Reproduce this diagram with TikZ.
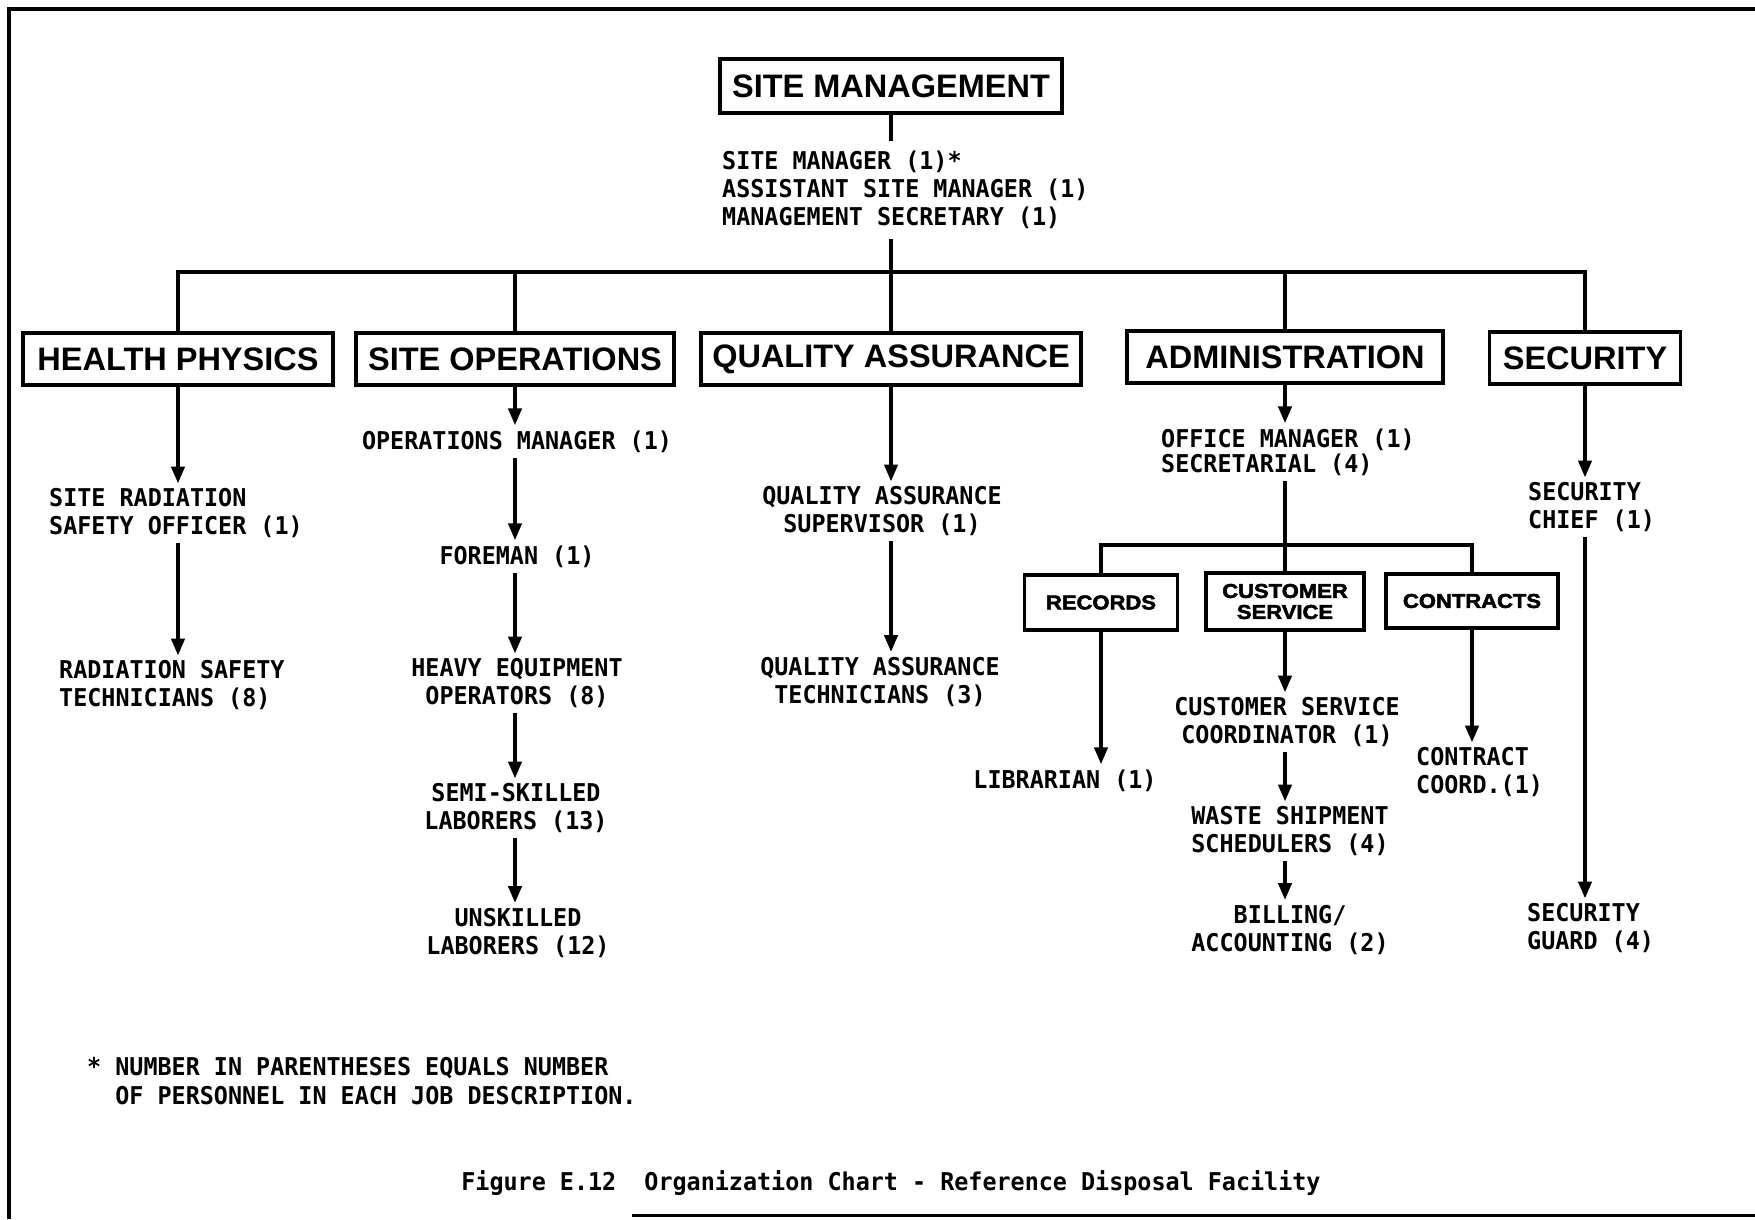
\documentclass[tikz,border=0pt]{standalone}
\usepackage{fontspec}
\usetikzlibrary{arrows.meta}
\newfontfamily\bodyfont[FakeStretch=0.955]{DejaVu Sans Mono}
\newfontfamily\deptfont{Liberation Sans}
\newfontfamily\subfont[FakeStretch=1.1,FakeBold=2.5]{Liberation Sans Bold}
\tikzset{
  dept/.style={draw, line width=3.5pt, minimum height=52pt, inner sep=0pt, font=\deptfont\bfseries\fontsize{32.5}{36}\selectfont},
  subbox/.style={draw, line width=3.5pt, inner sep=0pt, align=center, font=\subfont\fontsize{20}{21}\selectfont},
  job/.style={inner sep=5pt, font=\bodyfont\bfseries\fontsize{24.5}{28}\selectfont},
  jobl/.style={job, align=left},
  jobc/.style={job, align=center},
  link/.style={line width=4pt},
  arr/.style={line width=4pt, -{Triangle[length=17pt,width=13pt]}},
  frame/.style={line width=4pt},
}
\begin{document}
\begin{tikzpicture}[x=1pt,y=-1pt]
\useasboundingbox (0,0) rectangle (1755,1219);
% frame
\draw[frame] (1755,9) -- (9,9) -- (9,1219);
\draw[line width=3pt] (632,1215) -- (1755,1215);

% top
\node[dept, minimum width=342pt, minimum height=54pt] (sm) at (891,86) {SITE MANAGEMENT};
\node[jobl, anchor=west, inner ysep=10pt] (smt) at (717,190) {SITE MANAGER (1)*\\ASSISTANT SITE MANAGER (1)\\MANAGEMENT SECRETARY (1)};
\coordinate (bus) at (891,272);
\draw[link] (sm.south) -- (sm.south |- smt.north);
\draw[link] (sm.south |- smt.south) -- (bus);

% departments
\node[dept, minimum width=310pt] (hp) at (178,359) {HEALTH PHYSICS};
\node[dept, minimum width=318pt] (so) at (515,359) {SITE OPERATIONS};
\node[dept, minimum width=380pt] (qa) at (891,359) {QUALITY ASSURANCE};
\node[dept, minimum width=316pt] (adm) at (1285,357) {ADMINISTRATION};
\node[dept, minimum width=191pt] (sec) at (1585,358) {SECURITY};
\draw[link] (hp.north) -- (hp.north |- bus) -- (sec.north |- bus) -- (sec.north);
\draw[link] (so.north |- bus) -- (so.north);
\draw[link] (qa.north |- bus) -- (qa.north);
\draw[link] (adm.north |- bus) -- (adm.north);

% health physics
\node[jobl, anchor=west] (sro) at (44,513.5) {SITE RADIATION\\SAFETY OFFICER (1)};
\node[jobl, anchor=west] (rst) at (54,685.5) {RADIATION SAFETY\\TECHNICIANS (8)};
\draw[arr] (hp.south) -- (hp.south |- sro.north);
\draw[arr] (sro.south -| hp.south) -- (rst.north -| hp.south);

% site operations
\node[jobc] (om) at (517,441.5) {OPERATIONS MANAGER (1)};
\node[jobc] (fm) at (517,556.5) {FOREMAN (1)};
\node[jobc] (heo) at (517,683.5) {HEAVY EQUIPMENT\\OPERATORS (8)};
\node[jobc] (ss) at (516,808.5) {SEMI-SKILLED\\LABORERS (13)};
\node[jobc] (ul) at (518,933) {UNSKILLED\\LABORERS (12)};
\draw[arr] (so.south) -- (so.south |- om.north);
\draw[arr] (om.south -| so.south) -- (fm.north -| so.south);
\draw[arr] (fm.south -| so.south) -- (heo.north -| so.south);
\draw[arr] (heo.south -| so.south) -- (ss.north -| so.south);
\draw[arr] (ss.south -| so.south) -- (ul.north -| so.south);

% quality assurance
\node[jobc] (qas) at (882,511.5) {QUALITY ASSURANCE\\SUPERVISOR (1)};
\node[jobc] (qat) at (880,682) {QUALITY ASSURANCE\\TECHNICIANS (3)};
\draw[arr] (qa.south) -- (qa.south |- qas.north);
\draw[arr] (qas.south -| qa.south) -- (qat.north -| qa.south);

% administration
\node[jobl, anchor=west, font=\bodyfont\bfseries\fontsize{24.5}{25}\selectfont] (ofm) at (1156,452) {OFFICE MANAGER (1)\\SECRETARIAL (4)};
\draw[arr] (adm.south) -- (adm.south |- ofm.north);
\coordinate (sb) at (1285,545);
\node[subbox, minimum width=153pt, minimum height=55pt] (rec) at (1101,602.5) {RECORDS};
\node[subbox, minimum width=158pt, minimum height=57pt] (cs) at (1285,601.5) {CUSTOMER\\SERVICE};
\node[subbox, minimum width=172pt, minimum height=54pt] (con) at (1472,601) {CONTRACTS};
\draw[link] (ofm.south -| adm.south) -- (cs.north);
\draw[link] (rec.north) -- (rec.north |- sb) -- (con.north |- sb) -- (con.north);

\node[jobc] (lib) at (1065,780.5) {LIBRARIAN (1)};
\draw[arr] (rec.south) -- (rec.south |- lib.north);

\node[jobc] (csc) at (1287,722.5) {CUSTOMER SERVICE\\COORDINATOR (1)};
\node[jobc] (wss) at (1290,831.5) {WASTE SHIPMENT\\SCHEDULERS (4)};
\node[jobc] (bill) at (1290,930) {BILLING/\\ACCOUNTING (2)};
\draw[arr] (cs.south) -- (cs.south |- csc.north);
\draw[arr] (csc.south -| cs.south) -- (wss.north -| cs.south);
\draw[arr] (wss.south -| cs.south) -- (bill.north -| cs.south);

\node[jobl, anchor=west] (cc) at (1411,772.5) {CONTRACT\\COORD.(1)};
\draw[arr] (con.south) -- (con.south |- cc.north);

% security
\node[jobl, anchor=west] (sch) at (1523,507.5) {SECURITY\\CHIEF (1)};
\node[jobl, anchor=west] (sg) at (1522,928.5) {SECURITY\\GUARD (4)};
\draw[arr] (sec.south) -- (sec.south |- sch.north);
\draw[arr] (sch.south -| sec.south) -- (sg.north -| sec.south);

% footnote and caption
\node[jobl, anchor=west, font=\bodyfont\bfseries\fontsize{24.5}{29}\selectfont] (note) at (82,1081) {* NUMBER IN PARENTHESES EQUALS NUMBER\\\phantom{**}OF PERSONNEL IN EACH JOB DESCRIPTION.};
\node[job] (cap) at (891,1183) {Figure E.12~~Organization Chart - Reference Disposal Facility};
\end{tikzpicture}
\end{document}
